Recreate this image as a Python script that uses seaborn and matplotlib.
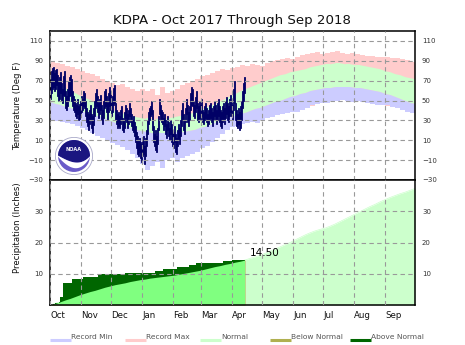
import numpy as np
import matplotlib
matplotlib.use("Agg")
import matplotlib.pyplot as plt
import seaborn as sns
from matplotlib.lines import Line2D
from matplotlib.patches import Circle, Polygon

# ---------------------------------------------------------------- data
title = "KDPA - Oct 2017 Through Sep 2018"
month_labels = ["Oct", "Nov", "Dec", "Jan", "Feb", "Mar",
                "Apr", "May", "Jun", "Jul", "Aug", "Sep"]
month_start_day = [0, 31, 61, 92, 123, 151, 182, 212, 243, 273, 304, 335]
year_days = 365

# climate values every 5 days of the water year (day 0 = Oct 1)
knot_day = list(range(0, 366, 5))

record_max = [89, 88, 87, 85, 84, 82, 80,
              78, 77, 75, 72, 70, 68,
              66, 67, 64, 62, 60, 62,
              60, 62, 56, 64, 58, 60,
              62, 66, 68, 70, 72, 75,
              76, 78, 80, 82, 81, 83,
              84, 86, 85, 87, 86, 85,
              88, 90, 91, 92, 93, 92,
              94, 96, 97, 98, 99, 97,
              98, 99, 100, 98, 97, 98,
              97, 96, 95, 95, 94, 94,
              94, 93, 93, 92, 91, 89, 86]

record_min = [30, 29, 28, 27, 26, 24, 22,
              20, 17, 14, 12, 9, 7,
              5, 3, 0, -4, -8, -14,
              -20, -16, -12, -18, -10, -8,
              -12, -8, -6, -4, -2, 2,
              4, 8, 12, 16, 20, 23,
              24, 26, 27, 28, 27, 30,
              32, 33, 35, 36, 37, 38,
              38, 40, 42, 45, 47, 48,
              48, 50, 50, 51, 50, 49,
              50, 49, 48, 47, 46, 46,
              45, 43, 42, 40, 38, 37, 36]

normal_max = [70, 68, 65, 63, 60, 58, 55,
              53, 51, 48, 46, 44, 42,
              40, 38, 37, 35, 34, 33,
              32, 32, 31, 31, 32, 33,
              34, 35, 36, 37, 39, 41,
              43, 45, 47, 50, 52, 55,
              57, 60, 62, 64, 66, 68,
              70, 72, 74, 76, 77, 79,
              80, 81, 82, 84, 85, 86,
              87, 87, 88, 88, 87, 87,
              86, 86, 85, 84, 83, 82,
              80, 79, 77, 76, 74, 73, 72]

normal_min = [49, 47, 46, 44, 43, 41, 40,
              38, 37, 35, 34, 32, 30,
              28, 27, 25, 23, 21, 20,
              19, 18, 17, 17, 17, 17,
              18, 18, 19, 20, 21, 23,
              24, 26, 28, 30, 32, 34,
              35, 37, 38, 40, 42, 43,
              45, 47, 49, 50, 52, 54,
              55, 57, 58, 60, 61, 62,
              63, 63, 64, 64, 64, 64,
              63, 63, 62, 61, 60, 59,
              57, 56, 54, 52, 50, 48, 47]

normal_precip_cum = [0.0, 0.5, 1.0, 1.6, 2.1, 2.7, 3.3,
                     3.8, 4.3, 4.7, 5.2, 5.7, 6.1,
                     6.5, 6.8, 7.1, 7.5, 7.8, 8.1,
                     8.3, 8.6, 8.8, 9.0, 9.2, 9.4,
                     9.6, 9.9, 10.2, 10.5, 10.8, 11.1,
                     11.5, 11.9, 12.3, 12.6, 13.0, 13.3,
                     13.7, 14.0, 14.4, 14.9, 15.4, 15.9,
                     16.5, 17.2, 17.9, 18.6, 19.3, 20.0,
                     20.8, 21.6, 22.4, 23.1, 23.7, 24.2,
                     24.6, 25.2, 25.9, 26.7, 27.5, 28.3,
                     29.1, 29.9, 30.7, 31.5, 32.2, 33.0,
                     33.7, 34.4, 35.0, 35.6, 36.1, 36.7, 37.3]

# observed daily temperatures, Oct 1 2017 - Apr 13 2018
obs_high = [72, 80, 83, 84, 78, 81, 82, 76, 70, 74,
            79, 68, 62, 75, 80, 60, 55, 62, 70, 74,
            76, 72, 60, 55, 52, 48, 46, 52, 44, 47,
            50, 55, 52, 60, 58, 50, 42, 38, 36, 40,
            45, 36, 34, 42, 50, 58, 62, 55, 48, 52,
            56, 45, 40, 50, 60, 62, 55, 48, 58, 64,
            60, 50, 55, 63, 66, 48, 40, 36, 38, 34,
            40, 44, 32, 30, 38, 46, 42, 36, 40, 48,
            42, 36, 30, 34, 28, 24, 18, 14, 10, 12,
            8, 6, 10, 14, 4, 12, 20, 30, 38, 42,
            44, 50, 40, 24, 16, 20, 14, 22, 34, 52,
            46, 40, 38, 32, 36, 30, 26, 34, 28, 22,
            30, 26, 20, 18, 24, 16, 12, 20, 26, 22,
            30, 40, 48, 36, 30, 42, 52, 46, 38, 44,
            58, 64, 62, 50, 46, 54, 60, 48, 44, 50,
            46, 52, 40, 38, 44, 48, 42, 36, 40, 46,
            48, 42, 38, 44, 50, 46, 40, 48, 52, 44,
            40, 38, 44, 48, 42, 50, 54, 48, 44, 52,
            56, 50, 46, 62, 70, 48, 40, 36, 42, 38,
            44, 50, 60, 68, 74]

obs_low = [52, 58, 62, 64, 60, 62, 66, 55, 50, 52,
           58, 50, 48, 56, 55, 42, 40, 44, 50, 55,
           56, 50, 44, 40, 38, 34, 32, 36, 30, 31,
           35, 38, 40, 44, 42, 34, 28, 24, 20, 26,
           30, 22, 17, 25, 34, 42, 45, 38, 32, 36,
           40, 30, 26, 32, 42, 45, 38, 30, 38, 44,
           40, 34, 38, 46, 48, 30, 26, 22, 24, 22,
           26, 30, 20, 18, 22, 32, 28, 22, 26, 34,
           28, 24, 20, 18, 14, 8, 2, -4, -6, -2,
           -8, -12, -6, -4, -14, -6, 4, 16, 26, 30,
           34, 36, 20, 8, 4, 0, -2, 6, 20, 36,
           30, 28, 26, 20, 24, 16, 12, 20, 14, 10,
           16, 8, 4, 2, 8, -2, -4, 4, 10, 6,
           14, 24, 30, 20, 16, 28, 36, 28, 24, 30,
           40, 46, 44, 34, 32, 38, 42, 30, 28, 32,
           30, 34, 28, 26, 30, 32, 28, 24, 26, 30,
           32, 28, 24, 30, 34, 30, 26, 30, 34, 28,
           24, 22, 28, 30, 26, 32, 36, 30, 28, 34,
           38, 34, 30, 40, 48, 30, 24, 22, 26, 20,
           22, 30, 42, 50, 58]

# observed precipitation events (day of water year, inches)
rain_day = [3, 5, 9, 10, 13, 22, 33, 48, 75, 85, 105, 113,
            127, 139, 146, 167, 173, 182, 190]
rain_inches = [0.20, 0.40, 0.50, 1.60, 4.30, 1.40, 0.50, 1.10, 0.20, 0.20,
               0.40, 0.80, 0.60, 0.60, 0.60, 0.20, 0.40, 0.30, 0.20]

# ---------------------------------------------------------------- colours
c_rec_min = "#ccccff"
c_rec_max = "#ffcccc"
c_normal = "#ccffcc"
c_below = "#b0b050"
c_above = "#006600"
c_norm_obs = "#80ff80"
c_obs_temp = "#000066"
c_grid = "#999999"

sns.set_theme(style="white")
plt.rcParams["font.family"] = ["DejaVu Sans"]

W, H = 465, 345
fig = plt.figure(figsize=(W / 100, H / 100), dpi=100)


def fbox(x0, y0, x1, y1):
    """pixel box (top-left origin) -> figure fraction rect"""
    return [x0 / W, 1 - y1 / H, (x1 - x0) / W, (y1 - y0) / H]


ax1 = fig.add_axes(fbox(50, 31, 415, 180))
ax2 = fig.add_axes(fbox(50, 180, 415, 305))

kd = np.array(knot_day)
n_obs = len(obs_high)

# ---------------------------------------------------------------- temperature
env = ax1.fill_between(kd, record_min, record_max, step="post",
                       color=c_rec_max, lw=0, zorder=1)
clip = env.get_paths()[0]
green = ax1.fill_between(kd, normal_min, normal_max, color=c_normal,
                         lw=0, zorder=1.1)
lav = ax1.fill_between(kd, -100, normal_min, color=c_rec_min,
                       lw=0, zorder=1.1)
for art in (green, lav):
    art.set_clip_path(clip, ax1.transData)

hi = np.array(obs_high)
lo = np.array(obs_low)
ax1.bar(np.arange(n_obs), hi - lo, bottom=lo, width=1.0, align="edge",
        color=c_obs_temp, edgecolor=c_obs_temp, linewidth=0.6, zorder=2)

ax1.set_xlim(0, year_days)
ax1.set_ylim(-30, 120)
ax1.set_yticks(range(-30, 111, 20))
ax1.set_xticks(month_start_day)
ax1.set_xticklabels([])

# ---------------------------------------------------------------- precipitation
npc = np.array(normal_precip_cum)
ax2.fill_between(kd, 0, npc, color=c_normal, lw=0, zorder=1)
sns.lineplot(x=kd, y=npc, ax=ax2, color=c_normal, linewidth=0.5, zorder=1)

daily = np.zeros(n_obs)
np.add.at(daily, rain_day, rain_inches)
obs_cum = np.cumsum(daily)
x_obs = np.arange(n_obs + 1)
y_obs = np.append(obs_cum, obs_cum[-1])

in_obs = kd <= n_obs
ax2.fill_between(kd[in_obs], 0, npc[in_obs], color=c_below, lw=0, zorder=1.2)
obs_poly = ax2.fill_between(x_obs, 0, y_obs, step="post", color=c_above,
                            lw=0, zorder=1.3)
bright = ax2.fill_between(kd[in_obs], 0, npc[in_obs], color=c_norm_obs,
                          lw=0, zorder=1.4)
bright.set_clip_path(obs_poly.get_paths()[0], ax2.transData)

total = obs_cum[-1]
ax2.text(n_obs + 5, total + 2.3, f"{total:.2f}", fontsize=7.5,
         color="black", ha="left", va="center", zorder=5)

ax2.set_xlim(0, year_days)
ax2.set_ylim(0, 40)
ax2.set_yticks([10, 20, 30])
ax2.set_xticks(month_start_day, month_labels, ha="left")

# ---------------------------------------------------------------- axes styling
for ax in (ax1, ax2):
    ax.set_axisbelow(False)
    ax.grid(True, color=c_grid, linestyle=(0, (4, 3)), linewidth=0.8)
    ax.tick_params(axis="y", length=0, labelsize=5, labelcolor="#333333",
                   left=True, right=True, labelleft=True, labelright=True,
                   pad=5)
    ax.tick_params(axis="x", length=0, labelsize=6.2, labelcolor="#111111",
                   pad=4)
    for sp in ax.spines.values():
        sp.set_visible(True)
        sp.set_color("black")
        sp.set_linewidth(1.1)
    ax.set_xlabel("")
    ax.set_ylabel("")

fig.text(232 / W, 1 - 20.5 / H, title, ha="center", va="center",
         fontsize=9.6, color="#111111")
fig.text(18 / W, 1 - 106 / H, "Temperature (Deg F)", rotation=90,
         ha="center", va="center", fontsize=6.1, color="#111111")
fig.text(18 / W, 1 - 228 / H, "Precipitation (Inches)", rotation=90,
         ha="center", va="center", fontsize=6.1, color="#111111")

# ---------------------------------------------------------------- legend
legend_items = [("Record Min", c_rec_min, 50),
                ("Record Max", c_rec_max, 125),
                ("Normal", c_normal, 200),
                ("Below Normal", c_below, 270),
                ("Above Normal", c_above, 350)]
for label, col, x0 in legend_items:
    fig.add_artist(Line2D([x0 / W, (x0 + 21) / W],
                          [1 - 339.5 / H, 1 - 339.5 / H],
                          color=col, linewidth=2.2, solid_capstyle="butt",
                          transform=fig.transFigure))
    fig.text((x0 + 21) / W, 1 - 337.3 / H, label, fontsize=5.4,
             color="#555555", ha="left", va="center")

# ---------------------------------------------------------------- NOAA emblem
lax = fig.add_axes(fbox(55, 137, 93, 175))
lax.set_xlim(-1, 1)
lax.set_ylim(-1, 1)
lax.set_aspect("equal")
lax.axis("off")
lax.add_patch(Circle((0, 0), 0.98, fc="white", ec="#a8a8c8", lw=0.6))
inner = Circle((0, 0), 0.84, fc="#6a5bc9", ec="none")
lax.add_patch(inner)
xs = np.linspace(-0.9, 0.9, 40)
top = 0.05 - 0.55 * (1 - (xs / 0.9) ** 2) * (0.7 + 0.3 * xs)
bottom = top - 0.28 * (1 - (xs / 0.9) ** 2) - 0.02
dark = Polygon(np.column_stack([np.r_[xs, xs[::-1]],
                                np.r_[top, np.full_like(xs, 1.0)]]),
               fc="#1b1680", ec="none")
wing = Polygon(np.column_stack([np.r_[xs, xs[::-1]],
                                np.r_[top, bottom[::-1]]]),
               fc="white", ec="none")
for p in (dark, wing):
    lax.add_patch(p)
    p.set_clip_path(inner)
lax.text(0, 0.36, "NOAA", color="white", fontsize=3.6, fontweight="bold",
         ha="center", va="center")

fig.savefig("out.png", dpi=100)
